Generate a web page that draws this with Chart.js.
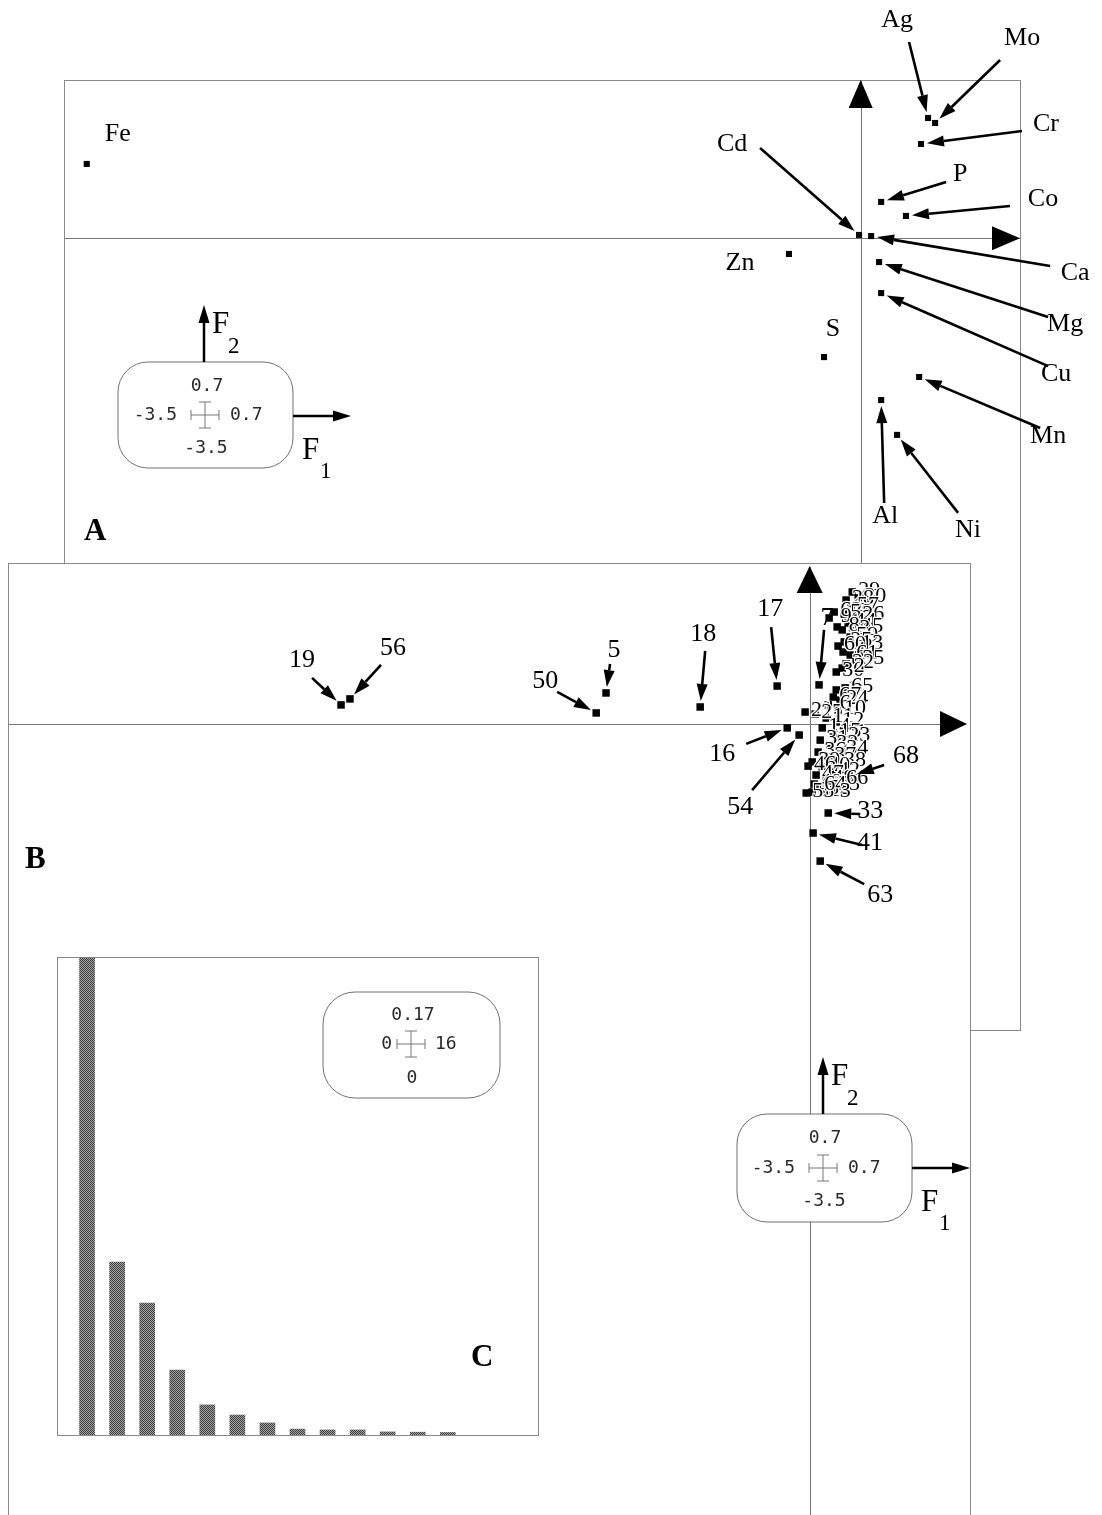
<!DOCTYPE html>
<html><head><meta charset="utf-8">
<script src="https://cdn.jsdelivr.net/npm/chart.js@4/dist/chart.umd.min.js"></script>
<style>
html,body{margin:0;padding:0;background:#fff;width:1102px;height:1515px;overflow:hidden;}
.layer{position:absolute;left:0;top:0;}
</style></head><body>
<canvas id="ca" class="layer" width="1102" height="1515"></canvas>
<canvas id="cb" class="layer" width="1102" height="1540"></canvas>
<canvas id="cc" class="layer" width="1102" height="1515"></canvas>
<script>
// ---- Panel A: variables on the first factorial plane (F1 x F2) ----
const varNames = ['Fe','Ag','Mo','Cr','P','Co','Cd','Ca','Zn','Mg','Cu','S','Mn','Al','Ni'];
const varF1 = [-3.40, 0.296, 0.327, 0.265, 0.090, 0.199, -0.007, 0.046, -0.315, 0.081, 0.090, -0.161, 0.257, 0.090, 0.160];
const varF2 = [0.329, 0.532, 0.510, 0.417, 0.161, 0.099, 0.015, 0.010, -0.069, -0.105, -0.242, -0.525, -0.613, -0.715, -0.869];

// ---- Panel B: samples on the same plane ----
const sampleIds = [19,56,50,5,18,17,7,16,54,68,33,41,63,
  29,20,28,57,62,58,26,9,44,45,43,8,59,25,13,60,4,61,35,22,30,2,
  1,65,67,21,27,24,6,10,11,12,14,15,23,31,32,34,36,37,38,39,40,42,46,47,48,49,51,52,53,55,64,66,3];
const sampleF1 = [-2.046,-2.007,-0.932,-0.889,-0.478,-0.142,0.041,-0.098,-0.046,0.181,0.081,0.015,0.046,
  0.186,0.212,0.159,0.181,0.107,0.151,0.203,0.085,0.168,0.199,0.142,0.120,0.177,0.151,0.199,0.124,0.146,0.177,0.203,0.159,0.116,0.142,
  0.116,0.155,0.103,-0.020,0.024,0.133,0.081,0.124,0.072,0.116,0.055,0.103,0.142,0.046,0.090,0.133,0.037,0.081,0.124,0.011,0.055,0.098,-0.007,0.028,0.072,0.020,0.011,0.055,0.098,-0.015,0.037,0.133,0.081];
const sampleF2 = [0.083,0.109,0.048,0.135,0.074,0.165,0.170,-0.017,-0.048,-0.226,-0.387,-0.474,-0.596,
  0.574,0.548,0.539,0.509,0.487,0.478,0.470,0.461,0.439,0.417,0.409,0.422,0.378,0.357,0.343,0.339,0.313,0.300,0.278,0.261,0.226,0.243,
  0.148,0.157,0.117,0.052,0.043,0.104,0.083,0.061,0.026,0.009,-0.017,-0.039,-0.057,-0.070,-0.091,-0.113,-0.122,-0.143,-0.165,-0.165,-0.187,-0.209,-0.183,-0.222,-0.243,-0.261,-0.296,-0.287,-0.270,-0.300,-0.270,-0.243,-0.300];

// ---- Panel C: eigenvalues ----
const eigenValues = [0.1696, 0.0615, 0.0469, 0.0231, 0.0107, 0.0071, 0.0043, 0.0021, 0.0018, 0.0018, 0.0011, 0.0010, 0.0009];

// axis limits shown in the scale boxes
const f1Limits = [-3.5, 0.7];
const f2Limits = [-3.5, 0.7];
const eigXLimits = [0, 16];
const eigYLimits = [0, 0.17];

// label placement (pixel offsets from the point: text centre, arrow tail)
const varLabelPos = {
  Fe:{label:[31,-30]}, Ag:{label:[-31,-98],tail:[-19,-76]}, Mo:{label:[87,-85],tail:[65,-63]},
  Cr:{label:[125,-20],tail:[101,-13]}, P:{label:[79,-28],tail:[65,-20]}, Co:{label:[137,-17],tail:[104,-10]},
  Cd:{label:[-127,-91],tail:[-99,-87]}, Ca:{label:[204,37],tail:[179,30]}, Zn:{label:[-49,9]},
  Mg:{label:[186,62],tail:[169,55]}, Cu:{label:[175,81],tail:[167,73]}, S:{label:[9,-28]},
  Mn:{label:[129,59],tail:[121,51]}, Al:{label:[4,116],tail:[3,103]}, Ni:{label:[71,95],tail:[61,78]}
};
const sampleLabelPos = {
  19:{label:[-39,-45],tail:[-29,-27]}, 56:{label:[43,-51],tail:[31,-34]}, 50:{label:[-51,-32],tail:[-39,-21]},
  5:{label:[8,-43],tail:[4,-29]}, 18:{label:[3,-73],tail:[5,-56]}, 17:{label:[-7,-77],tail:[-6,-59]},
  7:{label:[8,-67],tail:[5,-55]}, 16:{label:[-65,26],tail:[-41,16]}, 54:{label:[-59,72],tail:[-47,55]},
  68:{label:[55,-20],tail:[33,-11]}, 33:{label:[42,-2],tail:[32,1]}, 41:{label:[57,10],tail:[49,12]},
  63:{label:[60,34],tail:[44,23]}
};

const SERIF = '"Liberation Serif","DejaVu Serif",serif';
const MONO = '"DejaVu Sans Mono","Liberation Mono",monospace';
const GREY = '#8a8a8a';

function arrow(ctx, x0, y0, x1, y1, head, half, lw) {
  const a = Math.atan2(y1 - y0, x1 - x0);
  const bx = x1 - head * Math.cos(a), by = y1 - head * Math.sin(a);
  ctx.save();
  ctx.strokeStyle = '#000'; ctx.fillStyle = '#000'; ctx.lineWidth = lw;
  ctx.beginPath(); ctx.moveTo(x0, y0); ctx.lineTo(bx, by); ctx.stroke();
  ctx.beginPath(); ctx.moveTo(x1, y1);
  ctx.lineTo(bx - half * Math.sin(a), by + half * Math.cos(a));
  ctx.lineTo(bx + half * Math.sin(a), by - half * Math.cos(a));
  ctx.closePath(); ctx.fill();
  ctx.restore();
}

function fmt(v) { return String(v); }

// rounded box that gives the extent of both axes
function scaleBox(ctx, o) {
  ctx.save();
  ctx.beginPath(); ctx.roundRect(o.x, o.y, o.w, o.h, o.r);
  ctx.fillStyle = '#fff'; ctx.fill();
  ctx.strokeStyle = '#707070'; ctx.lineWidth = 1; ctx.stroke();
  ctx.fillStyle = '#2a2a2a'; ctx.font = '18px ' + MONO; ctx.textBaseline = 'middle';
  const cx = o.x + o.cx, cy = o.y + o.cy;
  ctx.textAlign = 'center';
  ctx.fillText(o.top, cx + 2, o.y + o.ty);
  ctx.fillText(o.bottom, cx + 1, o.y + o.by);
  ctx.textAlign = 'right'; ctx.fillText(o.left, cx - o.gapL, cy);
  ctx.textAlign = 'left'; ctx.fillText(o.right, cx + o.gapR, cy);
  // cross with end ticks
  ctx.strokeStyle = '#777'; ctx.lineWidth = 1;
  ctx.beginPath();
  ctx.moveTo(cx - 14, cy); ctx.lineTo(cx + 14, cy);
  ctx.moveTo(cx - 14, cy - 5); ctx.lineTo(cx - 14, cy + 5);
  ctx.moveTo(cx + 14, cy - 5); ctx.lineTo(cx + 14, cy + 5);
  ctx.moveTo(cx, cy - 13); ctx.lineTo(cx, cy + 13);
  ctx.moveTo(cx - 6, cy - 13); ctx.lineTo(cx + 6, cy - 13);
  ctx.moveTo(cx - 6, cy + 13); ctx.lineTo(cx + 6, cy + 13);
  ctx.stroke();
  ctx.restore();
  if (o.axes) {
    const ax = o.x + 86;
    arrow(ctx, ax, o.y, ax, o.y - 57, 18, 5.5, 2.5);
    const ay = o.y + 54;
    arrow(ctx, o.x + o.w, ay, o.x + o.w + 58, ay, 18, 5.5, 2.5);
    ctx.save(); ctx.fillStyle = '#000'; ctx.textBaseline = 'alphabetic'; ctx.textAlign = 'left';
    ctx.font = '31px ' + SERIF;
    ctx.fillText('F', o.x + 94, o.y - 29);
    ctx.fillText('F', o.x + 184, o.y + 97);
    ctx.font = '23px ' + SERIF;
    ctx.fillText('2', o.x + 110, o.y - 9);
    ctx.fillText('1', o.x + 202, o.y + 116);
    ctx.restore();
  }
}

function factorialAxes(chart, tipInset) {
  const {ctx, chartArea: ca, scales: {x, y}} = chart;
  const x0 = Math.round(x.getPixelForValue(0)) + 0.5, y0 = Math.round(y.getPixelForValue(0)) + 0.5;
  ctx.save();
  ctx.strokeStyle = '#777'; ctx.lineWidth = 1;
  ctx.beginPath();
  ctx.moveTo(ca.left, y0); ctx.lineTo(ca.right - tipInset, y0);
  ctx.moveTo(x0, ca.bottom); ctx.lineTo(x0, ca.top + tipInset);
  ctx.stroke();
  ctx.restore();
}
function axisHeads(chart, tipInset, head, half) {
  const {ctx, chartArea: ca, scales: {x, y}} = chart;
  const x0 = x.getPixelForValue(0), y0 = y.getPixelForValue(0);
  ctx.save(); ctx.fillStyle = '#000';
  ctx.beginPath(); ctx.moveTo(x0, ca.top + tipInset); ctx.lineTo(x0 - half, ca.top + tipInset + head); ctx.lineTo(x0 + half, ca.top + tipInset + head); ctx.closePath(); ctx.fill();
  ctx.beginPath(); ctx.moveTo(ca.right - tipInset, y0); ctx.lineTo(ca.right - tipInset - head, y0 - half); ctx.lineTo(ca.right - tipInset - head, y0 + half); ctx.closePath(); ctx.fill();
  ctx.restore();
}
function frame(chart, fill) {
  const {ctx, chartArea: ca} = chart;
  ctx.save();
  if (fill) { ctx.fillStyle = '#fff'; ctx.fillRect(ca.left, ca.top, ca.right - ca.left, ca.bottom - ca.top); }
  ctx.strokeStyle = GREY; ctx.lineWidth = 1;
  ctx.strokeRect(Math.round(ca.left) + 0.5, Math.round(ca.top) + 0.5, Math.round(ca.right - ca.left), Math.round(ca.bottom - ca.top));
  ctx.restore();
}
function panelLetter(ctx, t, x, y) {
  ctx.save(); ctx.fillStyle = '#000'; ctx.font = 'bold 31px ' + SERIF; ctx.textAlign = 'left'; ctx.textBaseline = 'alphabetic';
  ctx.fillText(t, x, y); ctx.restore();
}
function annotate(chart, names, posMap, font) {
  const {ctx} = chart;
  const meta = chart.getDatasetMeta(0);
  ctx.save(); ctx.font = font; ctx.fillStyle = '#000'; ctx.textAlign = 'center'; ctx.textBaseline = 'middle';
  names.forEach((n, i) => {
    const p = posMap[n]; if (!p) return;
    const el = meta.data[i];
    const px = el.x, py = el.y;
    ctx.fillText(String(n), px + p.label[0], py + p.label[1]);
    if (p.tail) {
      const tx = px + p.tail[0], ty = py + p.tail[1];
      const d = Math.hypot(tx - px, ty - py);
      const hx = px + (tx - px) / d * 6, hy = py + (ty - py) / d * 6;
      arrow(ctx, tx, ty, hx, hy, 17, 5.5, 2.6);
    }
  });
  ctx.restore();
}

const baseOpts = (pad, xr, yr) => ({
  responsive: false, animation: false, events: [],
  layout: {padding: pad},
  plugins: {legend: {display: false}, tooltip: {enabled: false}},
  scales: {
    x: {type: 'linear', min: xr[0], max: xr[1], display: false, offset: false},
    y: {type: 'linear', min: yr[0], max: yr[1], display: false}
  }
});

// ---- Panel A ----
new Chart(document.getElementById('ca'), {
  type: 'scatter',
  data: {datasets: [{data: varNames.map((n, i) => ({x: varF1[i], y: varF2[i]})),
    pointStyle: 'rect', radius: 4.3, backgroundColor: '#000', borderWidth: 0}]},
  options: baseOpts({left: 64, top: 80, right: 82, bottom: 485}, f1Limits, f2Limits),
  plugins: [{
    id: 'panelA',
    beforeDatasetsDraw(chart) { frame(chart, false); factorialAxes(chart, 0); },
    afterDatasetsDraw(chart) {
      const ctx = chart.ctx;
      axisHeads(chart, 0, 28, 12);
      annotate(chart, varNames, varLabelPos, '26px ' + SERIF);
      scaleBox(ctx, {x: 118, y: 362, w: 175, h: 106, r: 30, cx: 87, cy: 53, ty: 24, by: 86, gapL: 28, gapR: 25,
        top: fmt(f2Limits[1]), bottom: fmt(f2Limits[0]), left: fmt(f1Limits[0]), right: fmt(f1Limits[1]), axes: true});
      panelLetter(ctx, 'A', 84, 540);
    }
  }]
});

// ---- Panel B ----
new Chart(document.getElementById('cb'), {
  type: 'scatter',
  data: {datasets: [{data: sampleIds.map((n, i) => ({x: sampleF1[i], y: sampleF2[i]})),
    pointStyle: 'rect', radius: 5.3, backgroundColor: '#000', borderWidth: 0}]},
  options: baseOpts({left: 8, top: 563, right: 132, bottom: 11}, f1Limits, f2Limits),
  plugins: [{
    id: 'panelB',
    beforeDraw(chart) { frame(chart, true); },
    beforeDatasetsDraw(chart) { factorialAxes(chart, 4); },
    afterDatasetsDraw(chart) {
      const ctx = chart.ctx;
      // crowded samples: number written beside each point, outlined so overlaps stay legible
      const meta = chart.getDatasetMeta(0);
      ctx.save(); ctx.font = '22px ' + SERIF; ctx.textAlign = 'center'; ctx.textBaseline = 'middle';
      ctx.lineJoin = 'round';
      sampleIds.forEach((n, i) => {
        if (sampleLabelPos[n]) return;
        const el = meta.data[i];
        const tx = el.x + 17, ty = el.y - 2;
        ctx.strokeStyle = '#fff'; ctx.lineWidth = 2.5; ctx.strokeText(String(n), tx, ty);
        ctx.fillStyle = '#000'; ctx.fillText(String(n), tx, ty);
      });
      ctx.restore();
      axisHeads(chart, 3, 27, 13);
      annotate(chart, sampleIds, sampleLabelPos, '26px ' + SERIF);
      scaleBox(ctx, {x: 737, y: 1114, w: 175, h: 108, r: 30, cx: 86, cy: 54, ty: 24, by: 87, gapL: 28, gapR: 25,
        top: fmt(f2Limits[1]), bottom: fmt(f2Limits[0]), left: fmt(f1Limits[0]), right: fmt(f1Limits[1]), axes: true});
      panelLetter(ctx, 'B', 25, 868);
    }
  }]
});

// ---- Panel C: eigenvalue bar chart ----
const pc = document.createElement('canvas'); pc.width = 2; pc.height = 2;
const pctx = pc.getContext('2d');
pctx.fillStyle = '#a0a0a0'; pctx.fillRect(0, 0, 2, 2);
pctx.fillStyle = '#404040'; pctx.fillRect(0, 0, 1, 1); pctx.fillRect(1, 1, 1, 1);
const ccEl = document.getElementById('cc');
const barPattern = ccEl.getContext('2d').createPattern(pc, 'repeat');

new Chart(ccEl, {
  type: 'bar',
  data: {datasets: [{data: eigenValues.map((v, i) => ({x: i + 1, y: v})),
    backgroundColor: barPattern, barThickness: 15, borderWidth: 0}]},
  options: baseOpts({left: 57, top: 957, right: 564, bottom: 80}, eigXLimits, eigYLimits),
  plugins: [{
    id: 'panelC',
    beforeDraw(chart) { frame(chart, true); },
    afterDatasetsDraw(chart) {
      const ctx = chart.ctx;
      scaleBox(ctx, {x: 323, y: 992, w: 177, h: 106, r: 32, cx: 88, cy: 52, ty: 23, by: 86, gapL: 19, gapR: 24,
        top: fmt(eigYLimits[1]), bottom: fmt(eigYLimits[0]), left: fmt(eigXLimits[0]), right: fmt(eigXLimits[1]), axes: false});
      panelLetter(ctx, 'C', 471, 1366);
    }
  }]
});
</script>
</body></html>
